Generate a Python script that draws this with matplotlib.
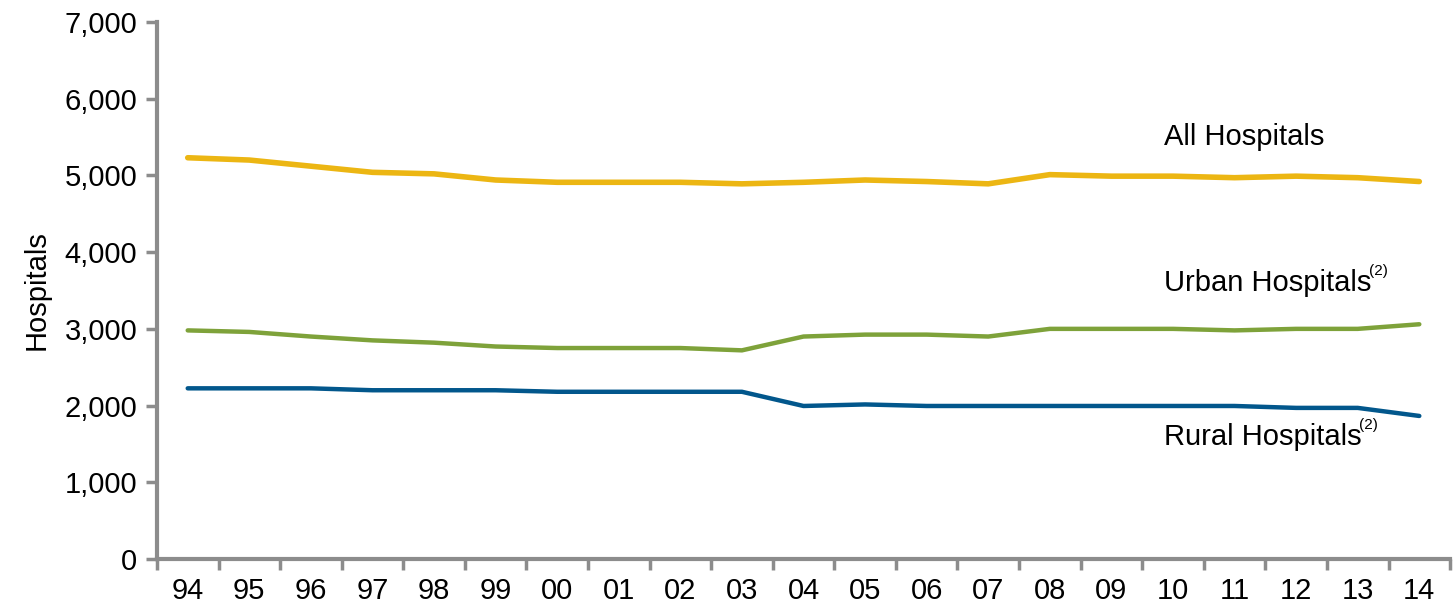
import numpy as np
import matplotlib.pyplot as plt

plt.rcParams['font.family'] = ['Liberation Sans', 'DejaVu Sans']

# --- Data ---
years = ["94", "95", "96", "97", "98", "99", "00", "01", "02", "03", "04",
         "05", "06", "07", "08", "09", "10", "11", "12", "13", "14"]
all_hosp = [5230, 5200, 5120, 5040, 5020, 4940, 4910, 4910, 4910, 4890, 4910,
            4940, 4920, 4890, 5010, 4990, 4990, 4970, 4990, 4970, 4920]
urban_hosp = [2980, 2960, 2900, 2850, 2820, 2770, 2750, 2750, 2750, 2720, 2900,
              2925, 2925, 2900, 3000, 3000, 3000, 2980, 3000, 3000, 3060]
rural_hosp = [2225, 2225, 2225, 2200, 2200, 2200, 2180, 2180, 2180, 2180, 1995,
              2015, 1995, 1995, 1995, 1995, 1995, 1995, 1970, 1970, 1865]

x = np.arange(len(years))
axis_gray = "#8c8c8c"
fs = 21

fig = plt.figure(figsize=(14.53, 6.09), dpi=100)
ax = fig.add_axes([0.108, 0.082, 0.89, 0.882])

ax.plot(x, all_hosp, color="#ecb613", lw=4.0, solid_capstyle="round")
ax.plot(x, urban_hosp, color="#7ea23a", lw=3.2, solid_capstyle="round")
ax.plot(x, rural_hosp, color="#02578c", lw=3.2, solid_capstyle="round")

ax.set_xlim(-0.5, len(years) - 0.5)
ax.set_ylim(0, 7000)

# y axis
ax.set_yticks(np.arange(0, 7001, 1000))
ax.set_yticklabels([f"{v:,}" for v in range(0, 7001, 1000)])
ax.tick_params(axis="y", length=8, width=2.5, color=axis_gray, labelsize=fs, pad=6)

# x axis: tick marks between categories, labels at centers
ax.set_xticks(np.arange(-0.5, len(years), 1.0))
ax.set_xticklabels([])
ax.set_xticks(x, minor=True)
ax.set_xticklabels(years, minor=True)
ax.tick_params(axis="x", which="major", length=8, width=2.5, color=axis_gray)
ax.tick_params(axis="x", which="minor", length=0, labelsize=fs, pad=13)

for side in ["top", "right"]:
    ax.spines[side].set_visible(False)
for side in ["left", "bottom"]:
    ax.spines[side].set_color(axis_gray)
    ax.spines[side].set_linewidth(3)

ax.set_ylabel("Hospitals", fontsize=fs, labelpad=10)

# --- series labels ---
lbl_x = 15.85
ax.text(lbl_x, 5500, "All Hospitals", fontsize=fs, va="center", ha="left")
t_urban = ax.text(lbl_x, 3600, "Urban Hospitals", fontsize=fs, va="center", ha="left")
t_rural = ax.text(lbl_x, 1590, "Rural Hospitals", fontsize=fs, va="center", ha="left")
for t in [t_urban, t_rural]:
    ax.annotate("(2)", xy=(0.99, 0.92), xycoords=t, fontsize=11, va="center", ha="left")

fig.savefig("out.png", dpi=100)
